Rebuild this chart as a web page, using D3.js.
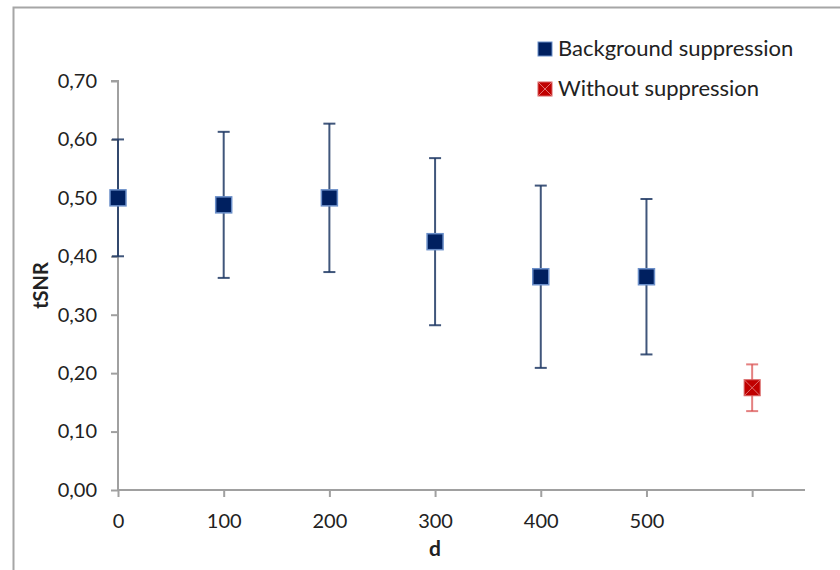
<!DOCTYPE html>
<html>
<head>
<meta charset="utf-8">
<script src="https://cdn.jsdelivr.net/npm/d3@7"></script>
<style>
  body { margin: 0; background: #fff; }
  text { font-family: Lato, "Open Sans", sans-serif; fill: #222; }
</style>
</head>
<body>
<div id="chart"></div>
<script>
// data
const dValues = [0, 100, 200, 300, 400, 500];
const bgMeans = [0.50, 0.488, 0.50, 0.425, 0.365, 0.365];
const bgErrors = [0.10, 0.125, 0.127, 0.143, 0.156, 0.133];
const noSupD = [600];
const noSupMeans = [0.175];
const noSupErrors = [0.04];
const xTicks = [0, 100, 200, 300, 400, 500, 600];
const xTickLabels = ["0", "100", "200", "300", "400", "500", ""];
const yTicks = [0, 0.1, 0.2, 0.3, 0.4, 0.5, 0.6, 0.7];
const seriesNames = ["Background suppression", "Without suppression"];

const width = 840, height = 570;
const margin = { top: 81, right: 35, bottom: 80, left: 118 };

const svg = d3.select("#chart").append("svg")
  .attr("width", width)
  .attr("height", height);

// outer frame
svg.append("rect")
  .attr("x", 13.5).attr("y", 7.5)
  .attr("width", 900).attr("height", 700)
  .attr("fill", "none")
  .attr("stroke", "#a6a6a6")
  .attr("stroke-width", 2);

const x = d3.scaleLinear().domain([0, 650]).range([margin.left, width - margin.right]);
const y = d3.scaleLinear().domain([0, 0.7]).range([height - margin.bottom, margin.top]);

const fmt = d => d3.format(".2f")(d).replace(".", ",");

// axes
const yAxis = d3.axisLeft(y).tickValues(yTicks).tickFormat(fmt).tickSize(7).tickPadding(14);
const xAxis = d3.axisBottom(x).tickValues(xTicks).tickFormat((d, i) => xTickLabels[i]).tickSize(7).tickPadding(17);

const gy = svg.append("g").attr("transform", `translate(${margin.left},0)`).call(yAxis);
const gx = svg.append("g").attr("transform", `translate(0,${height - margin.bottom})`).call(xAxis);
[gx, gy].forEach(g => {
  g.select(".domain").attr("stroke", "#a0a0a0").attr("stroke-width", 2);
  g.selectAll(".tick line").attr("stroke", "#a0a0a0").attr("stroke-width", 2);
  g.selectAll(".tick text").style("font-family", "Lato, sans-serif").style("font-size", "20px").attr("fill", "#222");
});
gy.select(".domain").attr("d", `M-7,${y(0.7)}H0V${y(0)}`);
gx.select(".domain").attr("d", `M${x(0)},0H${x(650)}`);

// axis titles
svg.append("text")
  .attr("transform", `translate(48,${y(0.35)}) rotate(-90)`)
  .attr("text-anchor", "middle")
  .style("font-size", "20px").style("font-weight", "bold")
  .text("tSNR");
svg.append("text")
  .attr("x", 435).attr("y", 556)
  .attr("text-anchor", "middle")
  .style("font-size", "21px").style("font-weight", "bold")
  .text("d");

const bgData = dValues.map((d, i) => ({ d: d, m: bgMeans[i], e: bgErrors[i] }));
const nsData = noSupD.map((d, i) => ({ d: d, m: noSupMeans[i], e: noSupErrors[i] }));

function drawErrors(data, color, opacity) {
  const g = svg.append("g").attr("stroke", color).attr("stroke-width", 2).attr("stroke-opacity", opacity);
  g.selectAll(".bar").data(data).enter().append("line")
    .attr("x1", d => x(d.d)).attr("x2", d => x(d.d))
    .attr("y1", d => y(d.m + d.e)).attr("y2", d => y(d.m - d.e));
  g.selectAll(".capt").data(data).enter().append("line")
    .attr("x1", d => x(d.d) - 6).attr("x2", d => x(d.d) + 6)
    .attr("y1", d => y(d.m + d.e)).attr("y2", d => y(d.m + d.e));
  g.selectAll(".capb").data(data).enter().append("line")
    .attr("x1", d => x(d.d) - 6).attr("x2", d => x(d.d) + 6)
    .attr("y1", d => y(d.m - d.e)).attr("y2", d => y(d.m - d.e));
}

drawErrors(bgData, "#1f3864", 0.85);
drawErrors(nsData, "#d94a4a", 0.7);

const s = 16;
svg.append("g").selectAll("rect").data(bgData).enter().append("rect")
  .attr("x", d => x(d.d) - s / 2).attr("y", d => y(d.m) - s / 2)
  .attr("width", s).attr("height", s)
  .attr("fill", "#002060")
  .attr("stroke", "#6b8fc9").attr("stroke-width", 1.5);

function redMarker(g, cx, cy, size) {
  g.append("rect")
    .attr("x", cx - size / 2).attr("y", cy - size / 2)
    .attr("width", size).attr("height", size)
    .attr("fill", "#c00000")
    .attr("stroke", "#d86060").attr("stroke-width", 1);
  g.append("path")
    .attr("d", `M${cx - size / 2},${cy - size / 2}L${cx + size / 2},${cy + size / 2}M${cx + size / 2},${cy - size / 2}L${cx - size / 2},${cy + size / 2}`)
    .attr("stroke", "#e07070").attr("stroke-width", 1);
}
nsData.forEach(d => redMarker(svg.append("g"), x(d.d), y(d.m), s));

// legend
const legend = svg.append("g").attr("transform", "translate(538,0)");
legend.append("rect")
  .attr("x", 0).attr("y", 42).attr("width", 14).attr("height", 14)
  .attr("fill", "#002060").attr("stroke", "#6b8fc9").attr("stroke-width", 1);
redMarker(legend, 7, 89, 14);
legend.selectAll(".lt").data(seriesNames).enter().append("text")
  .attr("x", 20).attr("y", (d, i) => 56 + i * 40)
  .style("font-size", "22px")
  .text(d => d);
</script>
</body>
</html>
